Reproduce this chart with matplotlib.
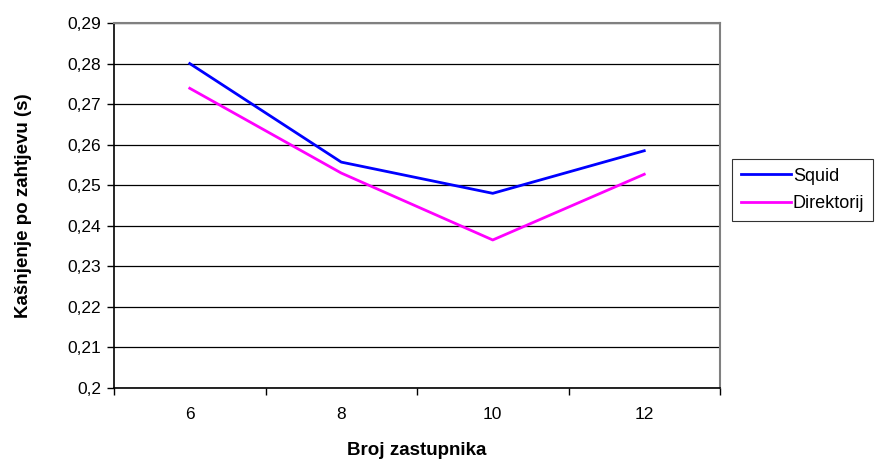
import matplotlib.pyplot as plt
import numpy as np

plt.rcParams["font.family"] = ["Liberation Sans", "DejaVu Sans"]

categories = ["6", "8", "10", "12"]
squid = [0.2800, 0.2557, 0.2480, 0.2585]
direktorij = [0.2739, 0.2530, 0.2365, 0.2527]
y_ticks = [0.20, 0.21, 0.22, 0.23, 0.24, 0.25, 0.26, 0.27, 0.28, 0.29]
y_labels = ["0,2", "0,21", "0,22", "0,23", "0,24", "0,25", "0,26", "0,27", "0,28", "0,29"]

fig = plt.figure(figsize=(8.77, 4.61), dpi=100)
ax = fig.add_axes([114 / 877, 1 - 388 / 461, (720 - 114) / 877, (388 - 23) / 461])

x = np.arange(len(categories))
ax.plot(x, squid, color="#0000ff", lw=2, label="Squid")
ax.plot(x, direktorij, color="#ff00ff", lw=2, label="Direktorij")

ax.set_xlim(-0.5, len(categories) - 0.5)
ax.set_ylim(0.2, 0.29)
ax.set_yticks(y_ticks)
ax.set_yticklabels(y_labels, fontsize=12.5)
ax.set_xticks(x)
ax.set_xticklabels(categories, fontsize=12.5)
ax.set_xticks(np.arange(-0.5, len(categories), 1), minor=True)
ax.tick_params(axis="x", which="major", length=0, pad=14)
ax.tick_params(axis="x", which="minor", length=5, direction="out", width=1)
ax.tick_params(axis="y", length=5, direction="out", width=1, pad=4)

ax.grid(axis="y", color="black", lw=0.9)
ax.set_axisbelow(True)
for side in ["top", "right"]:
    ax.spines[side].set_color("#808080")
    ax.spines[side].set_linewidth(1.5)
ax.spines["left"].set_linewidth(1.2)
ax.spines["bottom"].set_linewidth(1.2)

ax.set_xlabel("Broj zastupnika", fontsize=13.5, fontweight="bold", labelpad=14)
ax.set_ylabel("Kašnjenje po zahtjevu (s)", fontsize=13.5, fontweight="bold", labelpad=26)

leg = fig.legend(loc="center left", bbox_to_anchor=(732 / 877, 1 - 190 / 461),
                 fontsize=13, frameon=True, fancybox=False, edgecolor="black",
                 handlelength=2.75, borderpad=0.5, labelspacing=0.6, handletextpad=0.12,
                 borderaxespad=0)
leg.get_frame().set_linewidth(0.8)

fig.savefig("out.png", dpi=100)
